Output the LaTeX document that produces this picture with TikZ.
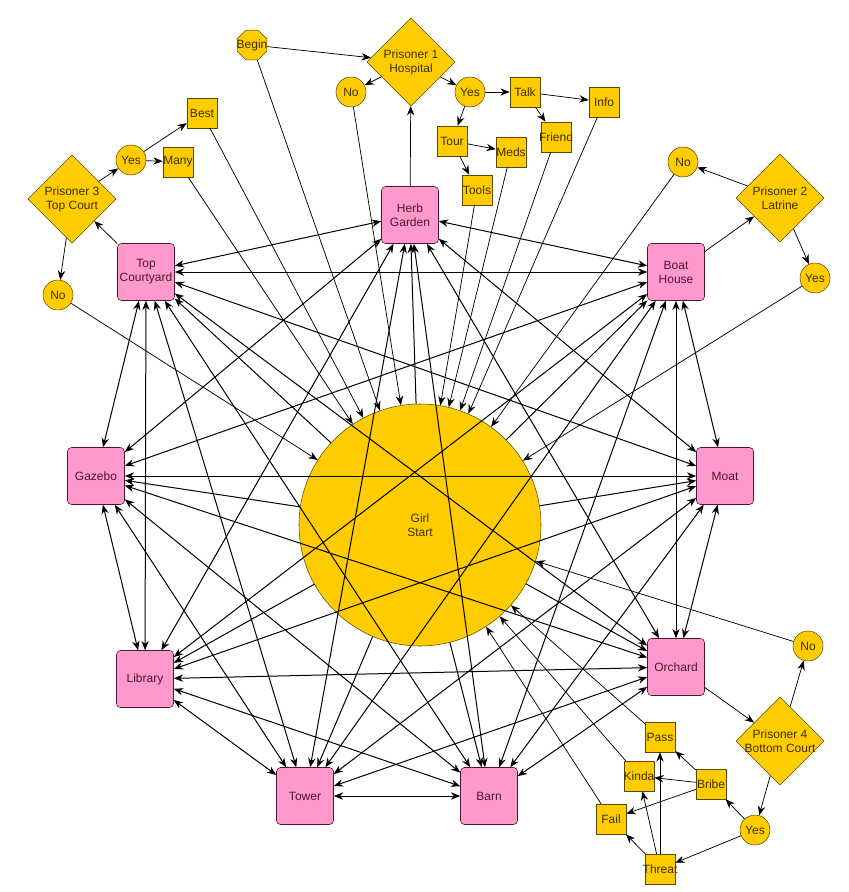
\documentclass[tikz,border=0pt]{standalone}
\usepackage{fontspec}
\setmainfont{Liberation Sans}
\usetikzlibrary{arrows.meta,shapes.geometric}
\definecolor{RoomPink}{HTML}{FF99CC}
\definecolor{RoomEdge}{HTML}{4D1530}
\definecolor{RoomText}{HTML}{4D1530}
\definecolor{StepGold}{HTML}{FFCC00}
\definecolor{StepEdge}{HTML}{5C4800}
\definecolor{StepText}{HTML}{3D3000}
\newcommand{\fitlbl}[1]{\makebox[0pt]{#1}}

\begin{document}
\begin{tikzpicture}[x=0.75pt,y=-0.75pt,>={Stealth[length=7pt,width=5.5pt]}]
  \tikzstyle{room}=[draw=RoomEdge,fill=RoomPink,rounded corners=3pt,
    minimum size=42.75pt,inner sep=1pt,align=center,text=RoomText,
    font=\fontsize{9}{10.5}\selectfont]
  \tikzstyle{girlc}=[circle,draw=StepEdge,fill=StepGold,minimum size=181.5pt,
    align=center,text=StepText,font=\fontsize{9}{10.5}\selectfont]
  \tikzstyle{gate}=[diamond,draw=StepEdge,fill=StepGold,minimum size=66pt,
    inner sep=-2.5pt,align=center,text=StepText,font=\fontsize{9}{10.5}\selectfont]
  \tikzstyle{ans}=[circle,draw=StepEdge,fill=StepGold,minimum size=22.5pt,
    inner sep=0pt,text=StepText,font=\fontsize{9}{10.5}\selectfont]
  \tikzstyle{leaf}=[rectangle,draw=StepEdge,fill=StepGold,minimum size=22.5pt,
    inner sep=0pt,text=StepText,font=\fontsize{9}{10.5}\selectfont]
  \tikzstyle{begbox}=[regular polygon,regular polygon sides=8,draw=StepEdge,
    fill=StepGold,minimum size=24pt,inner sep=0pt,text=StepText,
    font=\fontsize{9}{10.5}\selectfont]
  \tikzstyle{link}=[<->,line width=0.75pt]
  \tikzstyle{flow}=[->,line width=0.55pt]
  \useasboundingbox (0,0) rectangle (849,892);

  % start and rooms
  \node[girlc] (girl) at (420,525) {Girl\\Start};
  \node[room] (herb) at (410,215) {Herb\\Garden};
  \node[room] (topc) at (146,272) {Top\\Courtyard};
  \node[room] (boat) at (676,272) {Boat\\House};
  \node[room] (gaz) at (96,476) {Gazebo};
  \node[room] (moat) at (725,476) {Moat};
  \node[room] (lib) at (145,679) {Library};
  \node[room] (orch) at (676,667) {Orchard};
  \node[room] (tower) at (305,796) {Tower};
  \node[room] (barn) at (489,796) {Barn};

  % prisoner 1
  \node[begbox] (begin) at (252,45) {\fitlbl{Begin}};
  \node[gate] (p1) at (411,62) {Prisoner 1\\Hospital};
  \node[ans] (p1no) at (351,92) {No};
  \node[ans] (p1yes) at (470,92) {Yes};
  \node[leaf] (talk) at (525,92) {Talk};
  \node[leaf] (info) at (604,102) {Info};
  \node[leaf] (friend) at (556,137) {\fitlbl{Friend}};
  \node[leaf] (tour) at (452,141) {Tour};
  \node[leaf] (meds) at (511,152) {\fitlbl{Meds}};
  \node[leaf] (tools) at (477,190) {\fitlbl{Tools}};

  % prisoner 3
  \node[gate] (p3) at (72,199) {Prisoner 3\\Top Court};
  \node[ans] (p3yes) at (131,160) {Yes};
  \node[leaf] (best) at (202,113) {Best};
  \node[leaf] (many) at (178,162) {\fitlbl{Many}};
  \node[ans] (p3no) at (58,295) {No};

  % prisoner 2
  \node[gate] (p2) at (780,198) {Prisoner 2\\Latrine};
  \node[ans] (p2no) at (683,162) {No};
  \node[ans] (p2yes) at (815,278) {Yes};

  % prisoner 4
  \node[gate] (p4) at (780,741) {Prisoner 4\\\fitlbl{Bottom Court}};
  \node[ans] (p4no) at (808,646) {No};
  \node[ans] (p4yes) at (755,830) {Yes};
  \node[leaf] (pass) at (660,737) {Pass};
  \node[leaf] (kinda) at (639,776) {\fitlbl{Kinda}};
  \node[leaf] (bribe) at (711,784) {\fitlbl{Bribe}};
  \node[leaf] (fail) at (611,819) {Fail};
  \node[leaf] (threat) at (660,869) {\fitlbl{Threat}};

  % room to room
  \foreach \a/\b in {herb/topc,herb/boat,herb/gaz,herb/moat,herb/lib,herb/orch,
      herb/tower,herb/barn,topc/boat,topc/gaz,topc/moat,topc/lib,topc/orch,
      topc/tower,topc/barn,boat/gaz,boat/moat,boat/lib,boat/orch,boat/tower,
      boat/barn,gaz/moat,gaz/lib,gaz/orch,gaz/tower,gaz/barn,moat/lib,
      moat/orch,moat/tower,moat/barn,lib/orch,lib/tower,lib/barn,
      orch/tower,orch/barn,tower/barn}
    \draw[link] (\a) -- (\b);
  \foreach \r in {herb,topc,boat,gaz,moat,lib,orch,tower,barn}
    \draw[->,line width=0.75pt] (girl) -- (\r);

  % dialogue trees
  \draw[flow] (begin) -- (p1);
  \draw[flow] (herb) -- (p1);
  \draw[flow] (p1) -- (p1no);
  \draw[flow] (p1) -- (p1yes);
  \draw[flow] (p1yes) -- (talk);
  \draw[flow] (p1yes) -- (tour);
  \draw[flow] (talk) -- (info);
  \draw[flow] (talk) -- (friend);
  \draw[flow] (tour) -- (meds);
  \draw[flow] (tour) -- (tools);
  \draw[flow] (topc) -- (p3);
  \draw[flow] (p3) -- (p3yes);
  \draw[flow] (p3) -- (p3no);
  \draw[flow] (p3yes) -- (best);
  \draw[flow] (p3yes) -- (many);
  \draw[flow] (boat) -- (p2);
  \draw[flow] (p2) -- (p2no);
  \draw[flow] (p2) -- (p2yes);
  \draw[flow] (orch) -- (p4);
  \draw[flow] (p4) -- (p4no);
  \draw[flow] (p4) -- (p4yes);
  \draw[flow] (p4yes) -- (bribe);
  \draw[flow] (p4yes) -- (threat);
  \draw[flow] (bribe) -- (pass);
  \draw[flow] (bribe) -- (kinda);
  \draw[flow] (bribe) -- (fail);
  \draw[flow] (threat) -- (fail);
  \draw[flow] (threat) -- (kinda);
  \draw[flow] (threat) -- (pass);

  % endings back to start
  \foreach \e in {begin,p1no,tools,meds,friend,info,p2no,p2yes,p3no,best,
      many,p4no,pass,kinda,fail}
    \draw[flow] (\e) -- (girl);
\end{tikzpicture}
\end{document}
